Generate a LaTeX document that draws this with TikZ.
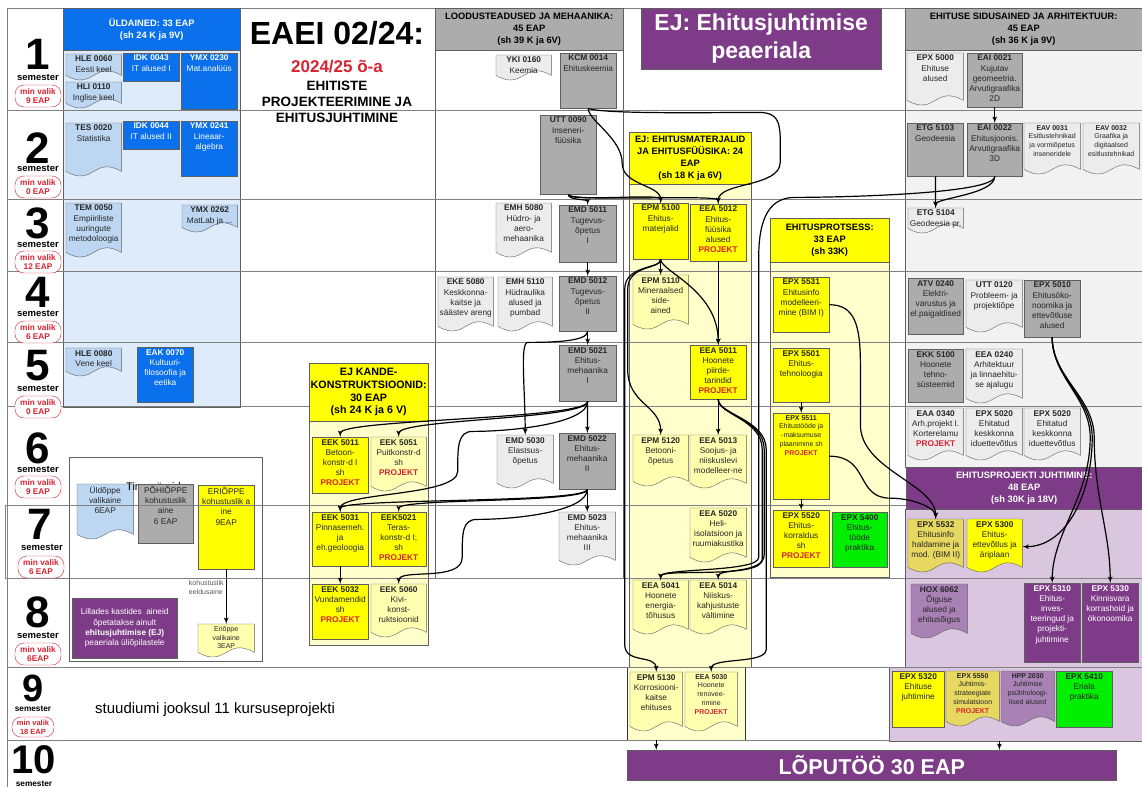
\documentclass[tikz,border=0pt]{standalone}
\usepackage{fontspec}
\setmainfont{Liberation Sans}
\usetikzlibrary{arrows,positioning}

\definecolor{sinine}{RGB}{10,112,235}
\definecolor{helesinine}{RGB}{222,235,250}
\definecolor{lehtsinine}{RGB}{189,215,242}
\definecolor{hall}{RGB}{172,172,172}
\definecolor{helehall}{RGB}{236,236,236}
\definecolor{paneelhall}{RGB}{242,242,242}
\definecolor{kollane}{RGB}{255,255,0}
\definecolor{helekollane}{RGB}{255,255,204}
\definecolor{lehtkollane}{RGB}{255,255,175}
\definecolor{khaki}{RGB}{230,216,96}
\definecolor{roheline}{RGB}{0,238,0}
\definecolor{lilla}{RGB}{126,60,136}
\definecolor{helelilla}{RGB}{218,198,222}
\definecolor{lehtlilla}{RGB}{168,130,180}
\definecolor{punane}{RGB}{215,35,50}
\definecolor{raam}{RGB}{95,95,95}

\newcommand{\kood}[1]{\textbf{#1}}
\newcommand{\proj}{\textcolor{punane}{\textbf{PROJEKT}}}
% rectangle box: [text style]{box style}{name}{x1}{y1}{x2}{y2}{text}
\newcommand{\aine}[8][]{%
  \node[#2, anchor=north west, inner sep=0pt, minimum width=#6-#4, minimum height=#7-#5] (#3) at (#4,-#5) {};
  \node[kiri, #1] at (#3.north) {#8};}
% document box with wavy bottom
\newcommand{\leht}[8][]{%
  \node[anchor=north west, inner sep=0pt, minimum width=#6-#4, minimum height=#7-#5] (#3) at (#4,-#5) {};
  \filldraw[#2] (#3.north west) -- (#3.north east) -- ([yshift=7pt]#3.south east)
    .. controls ([yshift=23pt]#3.south) and ([yshift=-9pt]#3.south) .. ([yshift=7pt]#3.south west) -- cycle;
  \node[kiri, #1] at (#3.north) {#8};}

\begin{document}
\begin{tikzpicture}
	[x=1pt, y=1pt,
	sinkast/.style ={draw=raam, fill=sinine},
	hallkast/.style ={draw=raam, fill=hall},
	kolkast/.style ={draw=raam, fill=kollane},
	rohkast/.style ={draw=raam, fill=roheline},
	lilkast/.style ={draw=raam, fill=lilla},
	sinleht/.style ={draw=raam, fill=lehtsinine},
	hallleht/.style ={draw=raam, fill=helehall},
	kolleht/.style ={draw=raam, fill=lehtkollane},
	erkleht/.style ={draw=raam, fill=kollane},
	khakileht/.style ={draw=raam, fill=khaki},
	lilleht/.style ={draw=raam, fill=lehtlilla},
	kiri/.style ={anchor=north, align=center, inner sep=2pt, text=black!85, font=\fontsize{8.3}{10.2}\selectfont},
	valge/.style ={text=white},
	vaike/.style ={font=\fontsize{7}{8.8}\selectfont},
	pea/.style ={draw=raam, anchor=north west, inner sep=0pt, align=center, font=\bfseries\fontsize{9.3}{11.8}\selectfont},
	paneel/.style ={draw=raam},
	rida/.style ={draw=black!50, line width=0.8pt},
	nool/.style ={draw, line width=1.2pt, -latex'},
	nr/.style ={inner sep=0pt, font=\bfseries\fontsize{44}{44}\selectfont},
	semtekst/.style ={inner sep=0pt, font=\bfseries\fontsize{9.5}{10}\selectfont},
	valik/.style ={draw=punane, fill=white, text=punane, rounded corners=9pt, align=center, inner sep=1pt, minimum width=46pt, minimum height=22pt, font=\bfseries\fontsize{8.3}{9.6}\selectfont}]
	\useasboundingbox (0,0) rectangle (1142,-787);

	% panels
	\draw[paneel, fill=helesinine] (63,-50) rectangle (240,-407);
	\draw[paneel, fill=paneelhall] (905,-50) rectangle (1142,-467);
	\draw[paneel, fill=helelilla] (905,-509) rectangle (1142,-667);
	\draw[paneel, fill=helekollane] (629,-184) rectangle (751,-667);
	\draw[paneel, fill=helekollane] (770,-262) rectangle (889,-577);
	\draw[paneel, fill=helekollane] (309,-421) rectangle (428,-645);
	\draw[paneel] (435,-8) rectangle (623,-578);
	\node[draw=black!80, fill=helekollane, anchor=north west, inner sep=0pt, minimum width=118, minimum height=73] (ejkast9) at (627,-667) {};
	\node[draw=raam, fill=helelilla, anchor=north west, inner sep=0pt, minimum width=253, minimum height=74] (lilkast9) at (889,-667) {};

	% legend
	\draw[paneel, fill=white] (69,-457) rectangle (262,-661);
	\leht{sinleht}{lgyld}{77}{484}{133}{541}{Üldõppe\\valikaine\\6EAP}
	\node[anchor=west, inner sep=0pt, font=\fontsize{11}{11}\selectfont] (tingmargid) at (126,-488) {Tingmärgid};
	\aine{hallkast}{lgpohi}{138}{484}{193}{543}{PÕHIÕPPE\\kohustuslik\\aine\\6 EAP}
	\aine{kolkast}{lgeri}{198}{485}{254}{569}{ERIÕPPE\\kohustuslik a\\ine\\9EAP}
	\leht[vaike]{kolleht}{lgvalik}{198}{624}{254}{659}{Eriõppe\\valikaine\\3EAP}
	\node[lilkast, text=white, anchor=north west, inner sep=0pt, align=center, minimum width=105, minimum height=60, font=\fontsize{8.3}{10.3}\selectfont] (lglilla) at (72,-598) {Lillades kastides\ \ aineid\\õpetatakse ainult\\\textbf{ehitusjuhtimise (EJ)}\\peaeriala üliõpilastele};
	\draw[nool] (lgeri) -- node[left, pos=0.33, align=left, inner sep=2pt, text=black!65, font=\fontsize{7}{8.5}\selectfont] {kohustuslik\\eeldusaine} (lgvalik);

	% semester rows
	\draw[rida] (7,-8) -- (1142,-8) (7,-110) -- (1142,-110) (7,-199) -- (1142,-199)
		(7,-271) -- (1142,-271) (7,-342) -- (1142,-342) (7,-406) -- (1142,-406)
		(5,-505) -- (1142,-505) (5,-578) -- (1142,-578) (5,-505) -- (5,-578)
		(7,-667) -- (1142,-667) (7,-740) -- (889,-740) (7,-8) -- (7,-787);

	% headers
	\node[pea, fill=sinine, text=white, minimum width=177, minimum height=42] (yldained) at (63,-8) {ÜLDAINED: 33 EAP\\(sh 24 K ja 9V)};
	\node[pea, fill=hall, minimum width=188, minimum height=42] (loodus) at (435,-8) {LOODUSTEADUSED JA MEHAANIKA:\\45 EAP\\(sh 39 K ja 6V)};
	\node[pea, fill=hall, minimum width=237, minimum height=42] (sidus) at (905,-8) {EHITUSE SIDUSAINED JA ARHITEKTUUR:\\45 EAP\\(sh 36 K ja 9V)};
	\node[pea, fill=kollane, minimum width=122, minimum height=52] (materjalid) at (629,-132) {EJ: EHITUSMATERJALID\\JA EHITUSFÜÜSIKA: 24\\EAP\\(sh 18 K ja 6V)};
	\node[pea, fill=kollane, minimum width=119, minimum height=44] (protsess) at (770,-218) {EHITUSPROTSESS:\\33 EAP\\(sh 33K)};
	\node[pea, fill=kollane, minimum width=119, minimum height=58, font=\bfseries\fontsize{10.7}{12.8}\selectfont] (kande) at (309,-363) {EJ KANDE-\\KONSTRUKTSIOONID:\\30 EAP\\(sh 24 K ja 6 V)};
	\node[pea, fill=lilla, text=white, minimum width=236, minimum height=42] (juhtimine) at (906,-467) {EHITUSPROJEKTI JUHTIMINE:\\48 EAP\\(sh 30K ja 18V)};
	\node[draw=raam, fill=lilla, text=white, anchor=north west, inner sep=0pt, align=center, minimum width=240, minimum height=61, font=\bfseries\fontsize{23}{28}\selectfont] (ejpea) at (641,-8) {EJ: Ehitusjuhtimise\\peaeriala};

	% title
	\node[font=\bfseries\fontsize{32}{32}\selectfont] (pealkiri) at (337,-33) {EAEI 02/24:};
	\node[text=punane, font=\bfseries\fontsize{17}{17}\selectfont] (aasta) at (337,-67) {2024/25 õ-a};
	\node[align=center, font=\bfseries\fontsize{13.5}{16.3}\selectfont] (eriala) at (337,-102) {EHITISTE\\PROJEKTEERIMINE JA\\EHITUSJUHTIMINE};

	% general subjects
	\leht{sinleht}{hle0060}{66}{54}{121}{82}{\kood{HLE 0060}\\Eesti keel}
	\leht{sinleht}{hli0110}{66}{82}{121}{110}{\kood{HLI 0110}\\Inglise keel}
	\aine[valge]{sinkast}{idk0043}{123}{53}{179}{81}{\kood{IDK 0043}\\IT alused I}
	\aine[valge]{sinkast}{ymx0230}{181}{53}{237}{109}{\kood{YMX 0230}\\Mat.analüüs}
	\leht{sinleht}{tes0020}{66}{123}{121}{178}{\kood{TES 0020}\\Statistika}
	\aine[valge]{sinkast}{idk0044}{123}{121}{179}{149}{\kood{IDK 0044}\\IT alused II}
	\aine[valge]{sinkast}{ymx0241}{181}{121}{237}{176}{\kood{YMX 0241}\\Lineaar-\\algebra}
	\leht{sinleht}{tem0050}{66}{203}{121}{259}{\kood{TEM 0050}\\Empiiriliste\\uuringute\\metodoloogia}
	\leht{sinleht}{ymx0262}{182}{205}{237}{234}{\kood{YMX 0262}\\MatLab ja ...}
	\leht{sinleht}{hle0080}{66}{348}{121}{378}{\kood{HLE 0080}\\Vene keel}
	\aine[valge]{sinkast}{eak0070}{137}{347}{193}{402}{\kood{EAK 0070}\\Kultuuri-\\filosoofia ja\\eetika}

	% natural sciences and mechanics
	\leht{hallleht}{yki0160}{496}{55}{551}{82}{\kood{YKI 0160}\\Keemia}
	\aine{hallkast}{kcm0014}{560}{53}{616}{108}{\kood{KCM 0014}\\Ehituskeemia}
	\aine{hallkast}{utt0090}{540}{115}{596}{194}{\kood{UTT 0090}\\Inseneri-\\füüsika}
	\leht{hallleht}{emh5080}{496}{203}{551}{259}{\kood{EMH 5080}\\Hüdro- ja\\aero-\\mehaanika}
	\aine{hallkast}{emd5011}{559}{205}{616}{262}{\kood{EMD 5011}\\Tugevus-\\õpetus\\I}
	\leht{hallleht}{eke5080}{438}{277}{493}{333}{\kood{EKE 5080}\\Keskkonna-\\kaitse ja\\säästev areng}
	\leht{hallleht}{emh5110}{498}{277}{552}{333}{\kood{EMH 5110}\\Hüdraulika\\alused ja\\pumbad}
	\aine{hallkast}{emd5012}{559}{276}{616}{331}{\kood{EMD 5012}\\Tugevus-\\õpetus\\II}
	\aine{hallkast}{emd5021}{559}{345}{616}{401}{\kood{EMD 5021}\\Ehitus-\\mehaanika\\I}
	\leht{hallleht}{emd5030}{497}{435}{553}{490}{\kood{EMD 5030}\\Elastsus-\\õpetus}
	\aine{hallkast}{emd5022}{559}{433}{615}{489}{\kood{EMD 5022}\\Ehitus-\\mehaanika\\II}
	\leht{hallleht}{emd5023}{559}{512}{615}{567}{\kood{EMD 5023}\\Ehitus-\\mehaanika\\III}

	% building materials and physics
	\aine{kolkast}{epm5100}{633}{203}{688}{259}{\kood{EPM 5100}\\Ehitus-\\materjalid}
	\aine{kolkast}{eea5012}{690}{204}{746}{261}{\kood{EEA 5012}\\Ehitus-\\füüsika\\alused\\\proj}
	\leht{kolleht}{epm5110}{633}{275}{688}{331}{\kood{EPM 5110}\\Mineraalsed\\side-\\ained}
	\aine{kolkast}{eea5011}{690}{345}{746}{399}{\kood{EEA 5011}\\Hoonete\\piirde-\\tarindid\\\proj}
	\leht{kolleht}{epm5120}{633}{435}{688}{488}{\kood{EPM 5120}\\Betooni-\\õpetus}
	\leht{kolleht}{eea5013}{690}{435}{746}{490}{\kood{EEA 5013}\\Soojus- ja\\niiskuslevi\\modelleer-ne}
	\leht{kolleht}{eea5020}{690}{508}{746}{564}{\kood{EEA 5020}\\Heli-\\isolatsioon ja\\ruumiakustika}
	\leht{kolleht}{eea5041}{633}{580}{688}{636}{\kood{EEA 5041}\\Hoonete\\energia-\\tõhusus}
	\leht{kolleht}{eea5014}{690}{580}{746}{636}{\kood{EEA 5014}\\Niiskus-\\kahjustuste\\vältimine}
	\leht{kolleht}{epm5130}{630}{672}{682}{733}{\kood{EPM 5130}\\Korrosiooni-\\kaitse\\ehituses}
	\leht[vaike]{kolleht}{eea5030}{685}{672}{737}{733}{\kood{EEA 5030}\\Hoonete\\renovee-\\rimine\\\proj}

	% construction process
	\aine{kolkast}{epx5531}{773}{277}{829}{332}{\kood{EPX 5531}\\Ehitusinfo\\modelleeri-\\mine (BIM I)}
	\aine{kolkast}{epx5501}{773}{348}{829}{402}{\kood{EPX 5501}\\Ehitus-\\tehnoloogia}
	\aine[vaike]{kolkast}{epx5511}{773}{413}{829}{499}{\kood{EPX 5511}\\Ehitustööde ja\\-maksumuse\\plaanimine sh\\\proj}
	\aine{kolkast}{epx5520}{773}{510}{829}{567}{\kood{EPX 5520}\\Ehitus-\\korraldus\\sh\\\proj}
	\aine{rohkast}{epx5400}{832}{512}{887}{567}{\kood{EPX 5400}\\Ehitus-\\tööde\\praktika}

	% load-bearing structures
	\aine{kolkast}{eek5011}{312}{437}{368}{493}{\kood{EEK 5011}\\Betoon-\\konstr-d I\\sh\\\proj}
	\leht{kolleht}{eek5051}{371}{437}{426}{493}{\kood{EEK 5051}\\Puitkonstr-d\\sh\\\proj}
	\aine{kolkast}{eek5031}{312}{512}{368}{566}{\kood{EEK 5031}\\Pinnasemeh.\\ja\\eh.geoloogia}
	\aine{kolkast}{eek5021}{371}{512}{426}{566}{\kood{EEK5021}\\Teras-\\konstr-d I;\\sh\\\proj}
	\aine{kolkast}{eek5032}{312}{584}{368}{639}{\kood{EEK 5032}\\Vundamendid\\sh\\\proj}
	\leht{kolleht}{eek5060}{371}{584}{426}{639}{\kood{EEK 5060}\\Kivi-\\konst-\\ruktsioonid}

	% related subjects and architecture
	\leht{hallleht}{epx5000}{907}{53}{963}{107}{\kood{EPX 5000}\\Ehituse\\alused}
	\aine{hallkast}{eai0021}{967}{53}{1022}{107}{\kood{EAI 0021}\\Kujutav\\geomeetria.\\Arvutigraafika\\2D}
	\aine{hallkast}{etg5103}{907}{123}{963}{176}{\kood{ETG 5103}\\Geodeesia}
	\aine{hallkast}{eai0022}{967}{123}{1022}{176}{\kood{EAI 0022}\\Ehitusjoonis.\\Arvutigraafika\\3D}
	\leht[vaike]{hallleht}{eav0031}{1024}{123}{1080}{176}{\kood{EAV 0031}\\Esitlustehnikad\\ja vormiõpetus\\inseneridele}
	\leht[vaike]{hallleht}{eav0032}{1083}{123}{1139}{176}{\kood{EAV 0032}\\Graafika ja\\digitaalsed\\esitlustehnikad}
	\leht{hallleht}{etg5104}{908}{208}{963}{235}{\kood{ETG 5104}\\Geodeesia pr.}
	\aine{hallkast}{atv0240}{908}{278}{963}{334}{\kood{ATV 0240}\\Elektri-\\varustus ja\\el.paigaldised}
	\leht{hallleht}{utt0120}{966}{280}{1022}{334}{\kood{UTT 0120}\\Probleem- ja\\projektiõpe}
	\aine{hallkast}{epx5010}{1024}{280}{1080}{337}{\kood{EPX 5010}\\Ehitusöko-\\noomika ja\\ettevõtluse\\alused}
	\aine{hallkast}{ekk5100}{908}{349}{963}{402}{\kood{EKK 5100}\\Hoonete\\tehno-\\süsteemid}
	\leht{hallleht}{eea0240}{966}{349}{1022}{405}{\kood{EEA 0240}\\Arhitektuur\\ja linnaehitu-\\se ajalugu}
	\leht{hallleht}{eaa0340}{908}{408}{963}{462}{\kood{EAA 0340}\\Arh.projekt I.\\Korterelamu\\\proj}
	\leht{hallleht}{epx5020a}{966}{408}{1022}{462}{\kood{EPX 5020}\\Ehitatud\\keskkonna\\iduettevõtlus}
	\leht{hallleht}{epx5020b}{1024}{408}{1080}{462}{\kood{EPX 5020}\\Ehitatud\\keskkonna\\iduettevõtlus}

	% construction project management
	\leht{khakileht}{epx5532}{908}{519}{963}{574}{\kood{EPX 5532}\\Ehitusinfo\\haldamine ja\\mod. (BIM II)}
	\leht{erkleht}{epx5300}{967}{519}{1022}{574}{\kood{EPX 5300}\\Ehitus-\\ettevõtlus ja\\äriplaan}
	\leht{lilleht}{hox6062}{911}{584}{967}{640}{\kood{HOX 6062}\\Õiguse\\alused ja\\ehitusõigus}
	\aine[valge]{lilkast}{epx5310}{1024}{583}{1080}{662}{\kood{EPX 5310}\\Ehitus-\\inves-\\teeringud ja\\projekti-\\juhtimine}
	\aine[valge]{lilkast}{epx5330}{1082}{583}{1138}{662}{\kood{EPX 5330}\\Kinnisvara\\korrashoid ja\\ökonoomika}
	\aine{kolkast}{epx5320}{892}{671}{944}{727}{\kood{EPX 5320}\\Ehituse\\juhtimine}
	\leht[vaike]{khakileht}{epx5550}{946}{671}{999}{728}{\kood{EPX 5550}\\Juhtimis-\\strateegiate\\simulatsioon\\\proj}
	\leht[vaike]{lilleht}{hpp2030}{1001}{671}{1054}{728}{\kood{HPP 2030}\\Juhtimise\\psühholoogi-\\lised alused}
	\aine{rohkast}{epx5410}{1056}{671}{1112}{727}{\kood{EPX 5410}\\Eriala\\praktika}

	\node[draw=raam, fill=lilla, text=white, anchor=north west, inner sep=0pt, minimum width=489, minimum height=30, font=\bfseries\fontsize{21.5}{22}\selectfont] (loputoo) at (627,-750) {LÕPUTÖÖ 30 EAP};
	\node[anchor=west, inner sep=0pt, font=\fontsize{15}{15}\selectfont] (kursused) at (95,-710) {stuudiumi jooksul 11 kursuseprojekti};

	% prerequisites
	\draw[nool] (kcm0014.south) .. controls +(0,-12) and +(0,25) .. ++(34,-55) .. controls +(0,-22) and +(0,18) .. (epm5100.north);
	\draw[nool] (kcm0014.south) .. controls +(15,-6) and +(-40,0) .. ++(170,-4) .. controls +(25,0) and +(0,35) .. ++(22,-50) .. controls +(0,-25) and +(0,22) .. (eea5012.north);
	\draw[nool] (utt0090.south) .. controls +(0,-8) and +(0,10) .. (epm5100.north);
	\draw[nool] (utt0090.south) .. controls +(0,-8) and +(0,10) .. (eea5012.north);
	\draw[nool] (utt0090.south) .. controls +(0,-6) and +(0,6) .. (emd5011.north);
	\draw[nool] (eai0021) -- (eai0022);
	\draw[nool] (etg5103) -- (etg5104);
	\draw[nool] (eai0022.south) .. controls +(0,-18) and +(0,10) .. (etg5104.north);
	\draw[nool] (eai0022.south) .. controls +(0,-18) and +(40,0) .. ++(-200,-21) .. controls +(-30,0) and +(0,30) .. ++(-36,-60) -- ++(0,-300) .. controls +(0,-15) and +(0,12) .. (eea5041.north);
	\draw[nool] (emd5011) -- (emd5012);
	\draw[nool] (emd5012) -- (emd5021);
	\draw[nool] (emd5012.south) .. controls +(0,-10) and +(25,0) .. ++(-60,-11) .. controls +(-8,0) and +(0,45) .. (emd5030.north);
	\draw[nool] (epm5100) -- (epm5110);
	\draw[nool] (epm5100.south) .. controls +(0,-12) and +(0,55) .. (eea5011.north);
	\draw[nool] (epm5100.south) .. controls +(0,-10) and +(0,25) .. ++(-33,-30) -- ++(0,-80) .. controls +(0,-35) and +(0,30) .. (epm5120.north);
	\draw[nool] (epm5100.south) .. controls +(0,-10) and +(0,25) .. ++(-36,-30) -- ++(0,-355) .. controls +(0,-20) and +(0,18) .. (epm5130.north);
	\draw[nool] (eea5012) -- (eea5011);
	\draw[nool] (eea5011) -- (eea5013);
	\draw[nool] (eea5011.south) .. controls +(0,-15) and +(0,30) .. ++(44,-50) -- ++(0,-110) .. controls +(0,-20) and +(0,12) .. (eea5041.north);
	\draw[nool] (eea5011.south) .. controls +(0,-15) and +(0,30) .. ++(46,-50) -- ++(0,-105) .. controls +(0,-20) and +(0,12) .. (eea5014.north);
	\draw[nool] (eea5011.south) .. controls +(0,-15) and +(0,30) .. ++(48,-50) -- ++(0,-200) .. controls +(0,-15) and +(0,15) .. (eea5030.north);
	\draw[nool] (epx5501) -- (epx5511);
	\draw[nool] (epx5511) -- (epx5520);
	\draw[nool] (epx5531.east) .. controls +(25,0) and +(0,40) .. ++(31,-60) -- ++(0,-60) .. controls +(0,-45) and +(0,35) .. (epx5532.north);
	\draw[nool] (epx5511.east) .. controls +(40,0) and +(-35,0) .. ++(61,-42) .. controls +(25,0) and +(0,10) .. (epx5532.north);
	\draw[nool] (emd5021) -- (emd5022);
	\draw[nool] (emd5021.south) .. controls +(0,-18) and +(0,18) .. (eek5011.north);
	\draw[nool] (emd5021.south) .. controls +(0,-18) and +(0,18) .. (eek5051.north);
	\draw[nool] (emd5021.south) .. controls +(0,-22) and +(40,0) .. ++(-115,-30) .. controls +(-15,0) and +(0,25) .. ++(-15,-40) .. controls +(0,-25) and +(0,20) .. (eek5031.north);
	\draw[nool] (emd5022) -- (emd5023);
	\draw[nool] (emd5022.south) .. controls +(0,-14) and +(0,14) .. (eek5031.north);
	\draw[nool] (emd5022.south) .. controls +(0,-14) and +(0,14) .. (eek5021.north);
	\draw[nool] (emd5022.south) .. controls +(0,-22) and +(40,0) .. ++(-110,-30) .. controls +(-15,0) and +(0,25) .. ++(-15,-38) .. controls +(0,-25) and +(0,16) .. (eek5060.north);
	\draw[nool] (eek5031) -- (eek5032);
	\draw[nool] (epx5010.south) .. controls +(0,-40) and +(0,40) .. ++(40,-100) .. controls +(0,-55) and +(45,0) .. (epx5300.east);
	\draw[nool] (epx5010.south) .. controls +(0,-40) and +(0,40) .. ++(38,-100) .. controls +(0,-60) and +(0,50) .. (epx5310.north);
	\draw[nool] (epx5010.south) .. controls +(0,-40) and +(0,40) .. ++(42,-100) .. controls +(0,-60) and +(0,50) .. (epx5330.north);
	\draw[nool] (epm5130.south |- ejkast9.south) -- (epm5130.south |- loputoo.north);
	\draw[nool] (epx5550.east |- lilkast9.south) -- (epx5550.east |- loputoo.north);

	% semesters
	\node[nr] (nr1) at (38,-54) {1};
	\node[semtekst] (sem1) at (38,-77) {semester};
	\node[valik] (valik1) at (38,-96) {min valik\\9 EAP};
	\node[nr] (nr2) at (38,-148) {2};
	\node[semtekst] (sem2) at (38,-168) {semester};
	\node[valik] (valik2) at (38,-187) {min valik\\0 EAP};
	\node[nr] (nr3) at (38,-223) {3};
	\node[semtekst] (sem3) at (38,-244) {semester};
	\node[valik] (valik3) at (38,-262) {min valik\\12 EAP};
	\node[nr] (nr4) at (38,-292) {4};
	\node[semtekst] (sem4) at (38,-313) {semester};
	\node[valik] (valik4) at (38,-332) {min valik\\6 EAP};
	\node[nr] (nr5) at (38,-366) {5};
	\node[semtekst] (sem5) at (38,-388) {semester};
	\node[valik] (valik5) at (38,-407) {min valik\\0 EAP};
	\node[nr] (nr6) at (38,-448) {6};
	\node[semtekst] (sem6) at (38,-469) {semester};
	\node[valik] (valik6) at (38,-487) {min valik\\9 EAP};
	\node[nr] (nr7) at (40,-524) {7};
	\node[semtekst] (sem7) at (42,-547) {semester};
	\node[valik] (valik7) at (41,-567) {min valik\\6 EAP};
	\node[nr] (nr8) at (38,-612) {8};
	\node[semtekst] (sem8) at (38,-635) {semester};
	\node[valik] (valik8) at (38,-654) {min valik\\6EAP};
	\node[nr, font=\bfseries\fontsize{38}{38}\selectfont] (nr9) at (33,-688) {9};
	\node[semtekst, font=\bfseries\fontsize{8.3}{9}\selectfont] (sem9) at (33,-709) {semester};
	\node[valik, minimum width=42pt, minimum height=20pt, font=\bfseries\fontsize{7.5}{8.7}\selectfont] (valik9) at (33,-727) {min valik\\18 EAP};
	\node[nr, font=\bfseries\fontsize{40}{40}\selectfont] (nr10) at (34,-760) {10};
	\node[semtekst, font=\bfseries\fontsize{8.3}{9}\selectfont] (sem10) at (34,-783.5) {semester};

\end{tikzpicture}
\end{document}
